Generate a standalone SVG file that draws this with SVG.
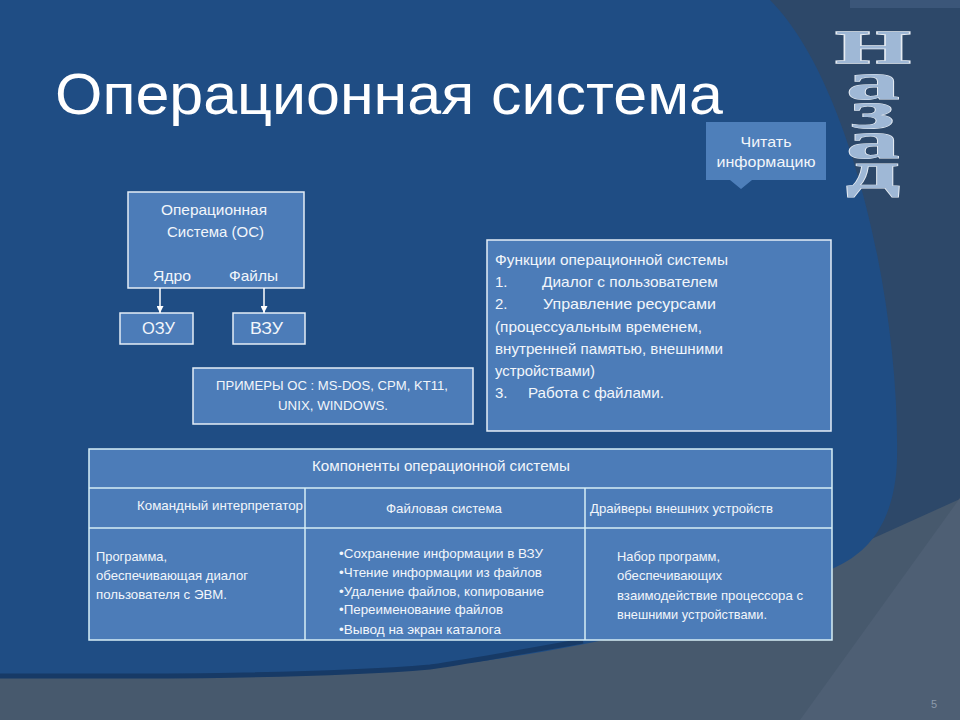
<svg xmlns="http://www.w3.org/2000/svg" width="960" height="720" viewBox="0 0 960 720">
<defs>
<style>
text{font-family:"Liberation Sans",Arial,sans-serif;fill:#f2f6fb}
.box{fill:#4c7cb8;stroke:#e4edf6;stroke-width:1.5}
.tbl{fill:#4c7cb8;stroke:#d6eef6;stroke-width:1.5}
.s13{font-size:13.5px}
.s15{font-size:15px}
.lt{font-family:"Liberation Serif","Times New Roman",serif;font-weight:bold;fill:url(#wa);stroke:#e6ecf3;stroke-width:1.6;paint-order:stroke;writing-mode:vertical-rl;text-orientation:upright}
.conn{stroke:#ffffff;stroke-width:1.5;fill:none}
</style>
<linearGradient id="wa" x1="0" y1="0" x2="1" y2="0">
<stop offset="0" stop-color="#9fb8d6"/>
<stop offset="0.5" stop-color="#4a7fc0"/>
<stop offset="1" stop-color="#9fb8d6"/>
</linearGradient>
<marker id="arr" viewBox="0 0 10 10" refX="10" refY="5" markerWidth="7" markerHeight="7" orient="auto" markerUnits="userSpaceOnUse">
<path d="M0,0 L10,5 L0,10 Z" fill="#ffffff"/>
</marker>
</defs>

<g id="background">
<rect x="0" y="0" width="960" height="720" fill="#2d4869"/>
<rect x="850" y="0" width="110" height="8" fill="#3b5679"/>
<path d="M0,655 L583,640 L834,556 L960,499 L960,720 L0,720 Z" fill="#47596d"/>
<path d="M800,720 L960,498 L960,720 Z" fill="#4e5f74"/>
<path d="M0,0 L770,0 C850,80 900,300 897,460 C895,520 870,550 840,565 C760,605 600,650 430,667 C300,678 100,676 0,676 Z" fill="#1f4d84"/>
<path d="M583,641 C500,656 450,664 430,667 C300,678 100,676 0,676" fill="none" stroke="#173a66" stroke-width="5"/>
<text x="931" y="708" style="font-size:11px;fill:#8d9aab">5</text>
</g>

<g id="title">
<text x="55" y="114" textLength="668" lengthAdjust="spacingAndGlyphs" style="font-size:58px;fill:#ffffff">Операционная система</text>
</g>

<g id="read-info">
<path d="M706,122 L826,122 L826,180 L752,180 L741,189 L730,180 L706,180 Z" fill="#4e7fba"/>
<text x="766" y="147" text-anchor="middle" textLength="51" lengthAdjust="spacingAndGlyphs" style="font-size:14.5px">Читать</text>
<text x="766" y="167" text-anchor="middle" textLength="99" lengthAdjust="spacingAndGlyphs" style="font-size:14.5px">информацию</text>
</g>

<g id="back">
<text class="lt" x="0" y="0" transform="translate(873,21) scale(2.05,1)" vector-effect="non-scaling-stroke" style="font-size:52px;letter-spacing:-28px"><tspan style="font-size:47px;letter-spacing:-21px">Н</tspan>азад</text>
</g>

<g id="os">
<rect class="box" x="128" y="192" width="176" height="96"/>
<text class="s15" x="214" y="215" text-anchor="middle" textLength="106" lengthAdjust="spacingAndGlyphs">Операционная</text>
<text class="s15" x="215.5" y="237" text-anchor="middle" textLength="97" lengthAdjust="spacingAndGlyphs">Система (ОС)</text>
<text class="s15" x="153" y="281" textLength="38" lengthAdjust="spacingAndGlyphs">Ядро</text>
<text class="s15" x="229" y="281" textLength="49" lengthAdjust="spacingAndGlyphs">Файлы</text>
</g>

<g id="ozu">
<rect class="box" x="120" y="313" width="73" height="31"/>
<text x="158.5" y="334" text-anchor="middle" textLength="33" lengthAdjust="spacingAndGlyphs" style="font-size:16px">ОЗУ</text>
</g>

<g id="vzu">
<rect class="box" x="233" y="313" width="72" height="31"/>
<text x="266.5" y="334" text-anchor="middle" textLength="33" lengthAdjust="spacingAndGlyphs" style="font-size:16px">ВЗУ</text>
</g>

<g id="examples">
<rect class="box" x="193" y="368" width="280" height="56"/>
<text class="s13" x="332" y="390" text-anchor="middle" textLength="232" lengthAdjust="spacingAndGlyphs">ПРИМЕРЫ ОС : MS-DOS, CPM, KT11,</text>
<text class="s13" x="333" y="410" text-anchor="middle" textLength="110" lengthAdjust="spacingAndGlyphs">UNIX, WINDOWS.</text>
</g>

<g id="functions">
<rect class="box" x="487" y="240" width="344" height="191"/>
<text class="s15" x="495" y="265" textLength="233" lengthAdjust="spacingAndGlyphs">Функции операционной системы</text>
<text class="s15" x="495" y="287">1.</text>
<text class="s15" x="542" y="287" textLength="176" lengthAdjust="spacingAndGlyphs">Диалог с пользователем</text>
<text class="s15" x="495" y="309">2.</text>
<text class="s15" x="543" y="309" textLength="173" lengthAdjust="spacingAndGlyphs">Управление ресурсами</text>
<text class="s15" x="495" y="332" textLength="207" lengthAdjust="spacingAndGlyphs">(процессуальным временем,</text>
<text class="s15" x="495" y="354" textLength="228" lengthAdjust="spacingAndGlyphs">внутренней памятью, внешними</text>
<text class="s15" x="495" y="376" textLength="100" lengthAdjust="spacingAndGlyphs">устройствами)</text>
<text class="s15" x="495" y="398">3.</text>
<text class="s15" x="528" y="398" textLength="136" lengthAdjust="spacingAndGlyphs">Работа с файлами.</text>
</g>

<g id="components">
<rect class="tbl" x="89" y="449" width="743" height="191"/>
<line class="tbl" x1="89" y1="488" x2="832" y2="488"/>
<line class="tbl" x1="89" y1="528" x2="832" y2="528"/>
<line class="tbl" x1="305" y1="488" x2="305" y2="640"/>
<line class="tbl" x1="585" y1="488" x2="585" y2="640"/>
<text class="s15" x="312" y="471" textLength="258" lengthAdjust="spacingAndGlyphs">Компоненты операционной системы</text>
<text class="s13" x="137" y="510" textLength="166" lengthAdjust="spacingAndGlyphs">Командный интерпретатор</text>
<text class="s13" x="386" y="513" textLength="116" lengthAdjust="spacingAndGlyphs">Файловая система</text>
<text class="s13" x="590" y="513" textLength="183" lengthAdjust="spacingAndGlyphs">Драйверы внешних устройств</text>
<text class="s13" x="96" y="561" textLength="71" lengthAdjust="spacingAndGlyphs">Программа,</text>
<text class="s13" x="96" y="580" textLength="152" lengthAdjust="spacingAndGlyphs">обеспечивающая диалог</text>
<text class="s13" x="96" y="599" textLength="131" lengthAdjust="spacingAndGlyphs">пользователя с ЭВМ.</text>
<text class="s13" x="339" y="558" textLength="204" lengthAdjust="spacingAndGlyphs">•Сохранение информации в ВЗУ</text>
<text class="s13" x="339" y="577" textLength="203" lengthAdjust="spacingAndGlyphs">•Чтение информации из файлов</text>
<text class="s13" x="339" y="596" textLength="205" lengthAdjust="spacingAndGlyphs">•Удаление файлов, копирование</text>
<text class="s13" x="339" y="614" textLength="164" lengthAdjust="spacingAndGlyphs">•Переименование файлов</text>
<text class="s13" x="339" y="634" textLength="162" lengthAdjust="spacingAndGlyphs">•Вывод на экран каталога</text>
<text class="s13" x="617" y="561" textLength="103" lengthAdjust="spacingAndGlyphs">Набор программ,</text>
<text class="s13" x="617" y="580" textLength="105" lengthAdjust="spacingAndGlyphs">обеспечивающих</text>
<text class="s13" x="617" y="600" textLength="186" lengthAdjust="spacingAndGlyphs">взаимодействие процессора с</text>
<text class="s13" x="617" y="619" textLength="150" lengthAdjust="spacingAndGlyphs">внешними устройствами.</text>
</g>

<g id="connectors">
<line class="conn" x1="160" y1="288" x2="160" y2="313" marker-end="url(#arr)"/>
<line class="conn" x1="264" y1="288" x2="264" y2="313" marker-end="url(#arr)"/>
</g>
</svg>
